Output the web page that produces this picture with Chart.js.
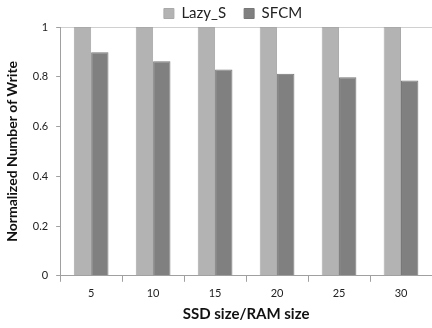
<!DOCTYPE html>
<html>
<head>
<meta charset="utf-8">
<script src="https://cdn.jsdelivr.net/npm/chart.js@4/dist/chart.umd.min.js"></script>
<style>
  html, body { margin: 0; padding: 0; background: #fff; }
  #wrap { width: 432px; height: 328px; }
</style>
</head>
<body>
<div id="wrap"><canvas id="chart" width="432" height="328"></canvas></div>
<script>
// ratio of SSD size to RAM size
const categories = ["5", "10", "15", "20", "25", "30"];

// normalized write counts
const lazyValues = [1, 1, 1, 1, 1, 1];
const sfcmValues = [0.899, 0.862, 0.829, 0.812, 0.798, 0.785];

const yTicks = [0, 0.2, 0.4, 0.6, 0.8, 1];

const FONT = "Lato, 'Open Sans', sans-serif";

// wide gap between legend items, but keep the legend box short
// and nudge it over the plot area
const legendTweak = {
  id: "legendTweak",
  afterInit(chart) {
    const lg = chart.legend;
    const fit = lg.fit;
    lg.fit = function () {
      fit.call(this);
      this.height -= 4;
    };
  },
  afterLayout(chart) {
    chart.legend.left += 15;
    chart.legend.right += 15;
  },
};

new Chart(document.getElementById("chart"), {
  type: "bar",
  data: {
    labels: categories,
    datasets: [
      {
        label: "Lazy_S",
        data: lazyValues,
        backgroundColor: "#b3b3b3",
        borderColor: "#a9a9a9",
        borderWidth: 1,
      },
      {
        label: "SFCM",
        data: sfcmValues,
        backgroundColor: "#808080",
        borderColor: "#777777",
        borderWidth: 1,
      },
    ],
  },
  plugins: [legendTweak],
  options: {
    responsive: false,
    animation: false,
    layout: { padding: { left: 4, right: 0, top: -12, bottom: 5 } },
    datasets: {
      bar: { categoryPercentage: 0.56, barPercentage: 1 },
    },
    plugins: {
      tooltip: { enabled: false },
      legend: {
        position: "top",
        labels: {
          boxWidth: 10,
          boxHeight: 10,
          padding: 18,
          color: "#222",
          font: { family: FONT, size: 15 },
        },
      },
    },
    scales: {
      x: {
        grid: {
          offset: true,
          drawOnChartArea: false,
          tickLength: 6,
          color: "#a0a0a0",
        },
        border: { color: "#a0a0a0" },
        ticks: { color: "#222", font: { family: FONT, size: 11 }, padding: 5 },
        title: {
          display: true,
          text: "SSD size/RAM size",
          color: "#111",
          font: { family: FONT, size: 15, weight: "bold" },
          padding: { top: 0, bottom: 0 },
        },
      },
      y: {
        min: 0,
        max: 1,
        afterBuildTicks: (axis) => {
          axis.ticks = yTicks.map((v) => ({ value: v }));
        },
        grid: {
          tickLength: 4,
          color: (ctx) => (ctx.tick && ctx.tick.value === 1 ? "#d0d0d0" : "rgba(0,0,0,0)"),
          tickColor: "#a0a0a0",
        },
        border: { color: "#a0a0a0" },
        ticks: {
          color: "#222",
          font: { family: FONT, size: 11 },
          padding: 8,
          callback: (v) => String(+Number(v).toFixed(1)),
        },
        title: {
          display: true,
          text: "Normalized Number of Write",
          color: "#111",
          font: { family: FONT, size: 14, weight: "bold" },
          padding: { top: 0, bottom: 4 },
        },
      },
    },
  },
});
</script>
</body>
</html>
